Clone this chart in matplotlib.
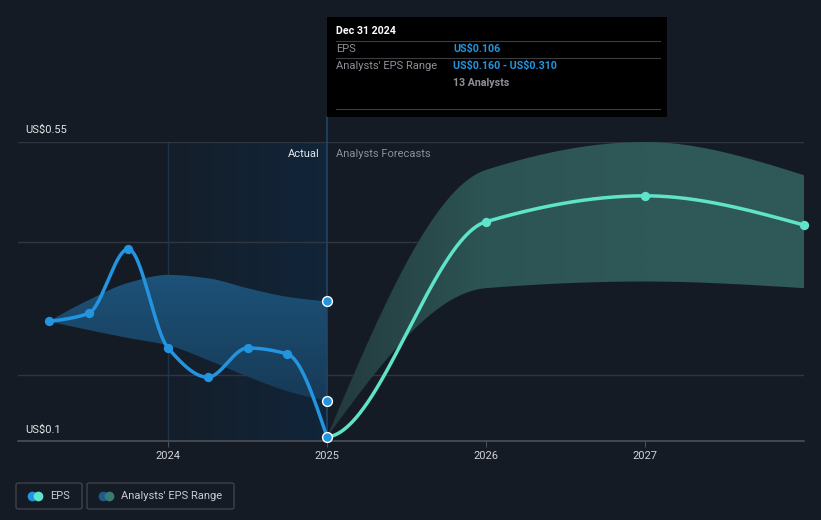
import numpy as np
import matplotlib
matplotlib.use("Agg")
import matplotlib.pyplot as plt
from matplotlib.patches import FancyBboxPatch, Rectangle
from matplotlib.colors import LinearSegmentedColormap

plt.rcParams['font.family'] = ['Roboto', 'DejaVu Sans']

# ---------------- data ----------------
hist_x = [2023.25, 2023.5, 2023.75, 2024.0, 2024.25, 2024.5, 2024.75, 2025.0]
hist_eps = [0.280, 0.292, 0.389, 0.240, 0.196, 0.240, 0.231, 0.106]
hist_hi = [0.280, 0.312, 0.338, 0.350, 0.345, 0.330, 0.317, 0.310]
hist_lo = [0.280, 0.267, 0.255, 0.244, 0.222, 0.197, 0.175, 0.160]

fc_x = [2025.0, 2026.0, 2027.0, 2028.0]
fc_eps = [0.106, 0.430, 0.469, 0.425]
fc_hi = [0.106, 0.508, 0.550, 0.500]
fc_lo = [0.106, 0.330, 0.340, 0.330]

range_pts = [0.310, 0.160]

y_tick_labels = ["US\\$0.1", "US\\$0.55"]
grid_vals = [0.2, 0.4, 0.55]
x_ticks = [2024, 2025, 2026, 2027]
x_tick_labels = ["2024", "2025", "2026", "2027"]

# ---------------- helpers ----------------
def monotone(xs, ys, n=200, start_slope=None):
    xs = np.asarray(xs, float); ys = np.asarray(ys, float)
    h = np.diff(xs); d = np.diff(ys) / h
    m = np.zeros_like(ys)
    m[0] = d[0]; m[-1] = d[-1]
    for i in range(1, len(xs) - 1):
        if d[i - 1] * d[i] <= 0:
            m[i] = 0
        else:
            m[i] = 3 * (h[i - 1] + h[i]) / ((2 * h[i] + h[i - 1]) / d[i - 1] + (h[i] + 2 * h[i - 1]) / d[i])
    if len(xs) > 2:
        m[0] = (3 * d[0] - m[1]) / 2 if d[0] * (3 * d[0] - m[1]) > 0 else 0
        m[-1] = (3 * d[-1] - m[-2]) / 2 if d[-1] * (3 * d[-1] - m[-2]) > 0 else 0
    if start_slope is not None:
        m[0] = start_slope
    X = []; Y = []
    for i in range(len(xs) - 1):
        t = np.linspace(0, 1, n)
        h00 = 2 * t**3 - 3 * t**2 + 1
        h10 = t**3 - 2 * t**2 + t
        h01 = -2 * t**3 + 3 * t**2
        h11 = t**3 - t**2
        X.append(xs[i] + t * h[i])
        Y.append(h00 * ys[i] + h10 * h[i] * m[i] + h01 * ys[i + 1] + h11 * h[i] * m[i + 1])
    return np.concatenate(X), np.concatenate(Y)

# ---------------- figure ----------------
W, H = 821, 520
BG = "#151b25"
fig = plt.figure(figsize=(W / 100, H / 100), dpi=100, facecolor=BG)
ax = fig.add_axes([18 / W, 1 - 441 / H, (804 - 18) / W, (441 - 142) / H])
ax.set_facecolor(BG)
x0 = 2024 - 150 / 159
x1 = 2024 + 636 / 159
ax.set_xlim(x0, x1)
ax.set_ylim(0.1, 0.55)
for s in ax.spines.values():
    s.set_visible(False)

# actual-period shaded background (gradient)
grad = np.linspace(0, 1, 256).reshape(1, -1)
cmap = LinearSegmentedColormap.from_list("g", ["#151e2a", "#112539"])
ax.imshow(grad, extent=[2024, 2025, 0.1, 0.55], aspect='auto', cmap=cmap, zorder=0,
          interpolation='bilinear')
ax.axvline(2024, color="#1d3349", lw=1, zorder=1)

# grid
for g in grid_vals:
    ax.axhline(g, color="#30363f", lw=1, zorder=1)
ax.axhline(0.1, color="#4a5059", lw=1.2, zorder=1, clip_on=False)

# historical band with vertical gradient
bx, bhi = monotone(hist_x, hist_hi)
_, blo = monotone(hist_x, hist_lo)
poly = ax.fill_between(bx, blo, bhi, color="none", lw=0, zorder=2)
vgrad = np.linspace(0, 1, 256).reshape(-1, 1)
bcmap = LinearSegmentedColormap.from_list("b", ["#1d5279", "#173a56"])
im = ax.imshow(vgrad, extent=[2023.25, 2025, 0.16, 0.35], aspect='auto', cmap=bcmap, zorder=2,
               origin='upper', interpolation='bilinear')
im.set_clip_path(poly.get_paths()[0], transform=ax.transData)

# forecast band with horizontal gradient
fx, fhi = monotone(fc_x, fc_hi)
_, flo = monotone(fc_x, fc_lo)
fpoly = ax.fill_between(fx, flo, fhi, color="none", lw=0, zorder=2)
hgrad = np.linspace(0, 1, 256).reshape(1, -1)
fcmap = LinearSegmentedColormap.from_list("f", ["#233a3d", "#2d5454", "#2f5858", "#2f5858"])
im2 = ax.imshow(hgrad, extent=[2025, 2028, 0.1, 0.55], aspect='auto', cmap=fcmap, zorder=2,
                interpolation='bilinear')
im2.set_clip_path(fpoly.get_paths()[0], transform=ax.transData)
ax.set_xlim(x0, x1)
ax.set_ylim(0.1, 0.55)

# vertical line at 2025 up to tooltip
ax.plot([2025, 2025], [0.1, 0.55 + 25 / 664], color="#1f4666", lw=1.2, zorder=3, clip_on=False)

# EPS lines
ex, ey = monotone(hist_x, hist_eps)
ax.plot(ex, ey, color="#2394df", lw=2.5, zorder=5, solid_capstyle='round')
ax.scatter(hist_x[:-1], hist_eps[:-1], s=45, color="#2394df", zorder=6, lw=0)

gx, gy = monotone(fc_x, fc_eps, start_slope=0.02)
ax.plot(gx, gy, color="#5fe3c9", lw=2.5, zorder=5, clip_on=False)
ax.scatter(fc_x[1:], fc_eps[1:], s=45, color="#5fe3c9", zorder=6, lw=0, clip_on=False)

ax.scatter([2025, 2025], range_pts, s=50, color="#2394df", edgecolors="white", linewidths=1, zorder=7)
ax.scatter([2025], [hist_eps[-1]], s=50, color="#2394df", edgecolors="white", linewidths=1, zorder=7, clip_on=False)

# ticks
ax.set_yticks([])
ax.set_xticks(x_ticks)
ax.set_xticklabels(x_tick_labels, color="#d0d3d8", fontsize=8)
ax.tick_params(axis='x', length=4, color="#4a5059", pad=3)

def fx_px(px):
    return px / W
def fy_px(py):
    return 1 - py / H

for lab, py in zip(y_tick_labels, [430, 130]):
    fig.text(fx_px(25), fy_px(py), lab, color="#e3e5e8", fontsize=8, va='center', ha='left')

fig.text(fx_px(320), fy_px(154), "Actual", color="#e6e8eb", fontsize=8, va='center', ha='right')
fig.text(fx_px(336), fy_px(154), "Analysts Forecasts", color="#8b8f96", fontsize=8, va='center', ha='left')

# tooltip
tip = Rectangle((fx_px(327), fy_px(117)), (667 - 327) / W, (117 - 17) / H, transform=fig.transFigure,
                facecolor="#000000", edgecolor="none", zorder=10)
fig.patches.append(tip)
for py in [41, 58, 109]:
    fig.add_artist(plt.Line2D([fx_px(336), fx_px(660)], [fy_px(py), fy_px(py)], transform=fig.transFigure,
                              color="#3a3d42", lw=0.8, zorder=11))
fig.text(fx_px(336), fy_px(31), "Dec 31 2024", color="white", fontsize=7.7, fontweight='bold', va='center', zorder=12)
fig.text(fx_px(336), fy_px(49), "EPS", color="#8d9096", fontsize=8, va='center', zorder=12)
fig.text(fx_px(453), fy_px(49), "US\\$0.106", color="#2394df", fontsize=7.7, fontweight='bold', va='center', zorder=12)
fig.text(fx_px(336), fy_px(66), "Analysts' EPS Range", color="#8d9096", fontsize=8, va='center', zorder=12)
fig.text(fx_px(453), fy_px(66), "US\\$0.160 - US\\$0.310", color="#2394df", fontsize=7.7, fontweight='bold', va='center', zorder=12)
fig.text(fx_px(453), fy_px(83), "13 Analysts", color="#8d9096", fontsize=7.7, fontweight='bold', va='center', zorder=12)

# legend
def legend_box(xl, xr, c1, c2, label):
    box = FancyBboxPatch((fx_px(xl), fy_px(509)), (xr - xl) / W, 26 / H, boxstyle="round,pad=0,rounding_size=0.003",
                         transform=fig.transFigure, facecolor="none", edgecolor="#41464e", lw=0.9)
    fig.patches.append(box)
    fig.add_artist(plt.Line2D([fx_px(xl + 16)], [fy_px(496)], marker='o', ms=7, color=c1, mec='none',
                              transform=fig.transFigure))
    fig.add_artist(plt.Line2D([fx_px(xl + 22)], [fy_px(496)], marker='o', ms=7, color=c2, mec='none',
                              transform=fig.transFigure))
    fig.text(fx_px(xl + 34), fy_px(496), label, color="#c9ccd1", fontsize=8, va='center', ha='left')

legend_box(16, 82, "#2394df", "#5fe3c9", "EPS")
legend_box(87, 234, "#1f5a8a", "#3a7a74", "Analysts' EPS Range")

fig.savefig("out.png", dpi=100, facecolor=BG)
